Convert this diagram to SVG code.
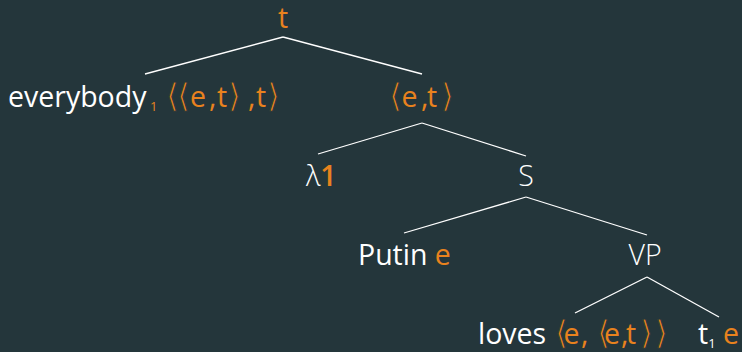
<svg xmlns="http://www.w3.org/2000/svg" width="742" height="352" viewBox="0 0 742 352">
<style>
text{font-family:"Open Sans","Noto Sans","DejaVu Sans",sans-serif;font-size:28.5px;fill:#ffffff}
.o{fill:#e8821e}
.b{font-family:"DejaVu Sans",sans-serif;font-weight:200;font-size:33px;stroke:#24363b;stroke-width:1}
.cat{font-weight:300}
.sub{font-size:13px}
.edge{stroke:#ffffff;stroke-width:1.3;fill:none}
</style>
<rect width="742" height="352" fill="#24363b"/>
<g id="connectors">
<line class="edge" x1="283" y1="37" x2="145" y2="74"/>
<line class="edge" x1="283" y1="37" x2="422" y2="74"/>
<line class="edge" x1="422" y1="123" x2="318" y2="154"/>
<line class="edge" x1="422" y1="123" x2="526" y2="156"/>
<line class="edge" x1="526" y1="197" x2="404" y2="233"/>
<line class="edge" x1="526" y1="197" x2="647" y2="235"/>
<line class="edge" x1="647" y1="277" x2="575" y2="313"/>
<line class="edge" x1="647" y1="277" x2="719" y2="317"/>
</g>
<g id="node-t"><text class="o" x="283" y="28" text-anchor="middle">t</text></g>
<g id="node-everybody"><text x="8" y="107">everybody<tspan class="o sub" x="150" dy="4">1</tspan><tspan class="o" dy="-4"><tspan class="b" x="166">⟨</tspan><tspan class="b" x="177">⟨</tspan><tspan x="190">e</tspan><tspan x="209">,</tspan><tspan x="217">t</tspan><tspan class="b" x="228">⟩</tspan><tspan x="248">,</tspan><tspan x="256">t</tspan><tspan class="b" x="267">⟩</tspan></tspan></text></g>
<g id="node-et"><text class="o" y="107"><tspan class="b" x="389">⟨</tspan><tspan x="401.5">e</tspan><tspan x="421">,</tspan><tspan x="427">t</tspan><tspan class="b" x="441">⟩</tspan></text></g>
<g id="node-lambda"><text class="cat" x="306" y="186">λ<tspan class="o" font-weight="600">1</tspan></text></g>
<g id="node-S"><text class="cat" x="526" y="186" text-anchor="middle">S</text></g>
<g id="node-putin"><text x="358" y="265">Putin <tspan class="o">e</tspan></text></g>
<g id="node-VP"><text class="cat" x="645" y="265" text-anchor="middle">VP</text></g>
<g id="node-loves"><text x="478" y="344">loves <tspan class="o"><tspan class="b" x="555">⟨</tspan><tspan x="563.5">e</tspan><tspan x="581">,</tspan><tspan class="b" x="597">⟨</tspan><tspan x="604">e</tspan><tspan x="621">,</tspan><tspan x="626">t</tspan><tspan class="b" x="640">⟩</tspan><tspan class="b" x="655">⟩</tspan></tspan></text></g>
<g id="node-trace"><text x="698" y="344">t<tspan class="sub" dy="4">1</tspan><tspan class="o" dy="-4"> e</tspan></text></g>
</svg>
